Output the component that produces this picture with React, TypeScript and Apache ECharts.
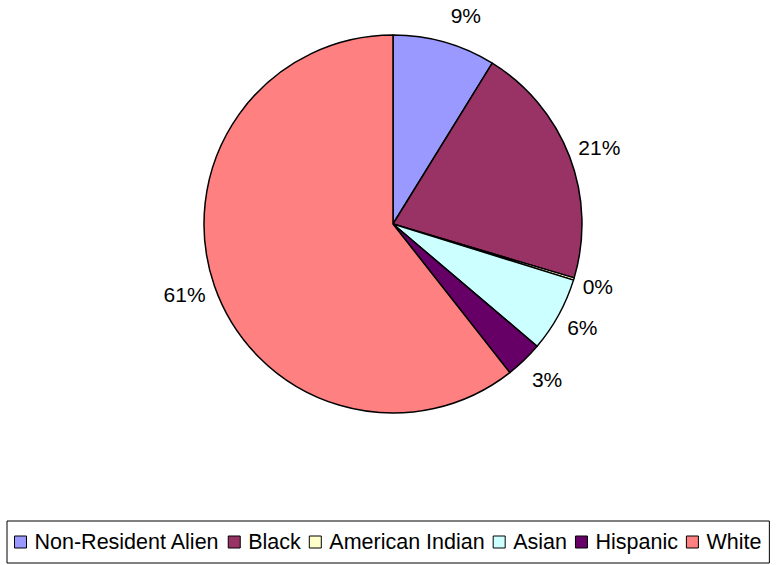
import React, { useEffect, useRef } from "react";
import * as echarts from "echarts";

const categories = ["Non-Resident Alien", "Black", "American Indian", "Asian", "Hispanic", "White"];
const values = [8.8, 20.8, 0.2, 6.4, 3.2, 60.6];
const colors = ["#9999FF", "#993366", "#FFFFCC", "#CCFFFF", "#660066", "#FF8080"];

const CX = 393;
const CY = 224;
const FONT = "'Liberation Sans', Arial, sans-serif";

export default function App() {
  const ref = useRef<HTMLDivElement>(null);
  useEffect(() => {
    if (!ref.current) return;
    const chart = echarts.init(ref.current, null, { renderer: "svg" });
    chart.setOption({
      animation: false,
      backgroundColor: "#ffffff",
      legend: {
        data: categories,
        left: 7,
        top: 521,
        orient: "horizontal",
        padding: [10, 8, 10, 7],
        itemGap: 8,
        itemWidth: 12,
        itemHeight: 12,
        icon: "rect",
        borderColor: "#000",
        borderWidth: 1,
        backgroundColor: "#fff",
        itemStyle: { borderColor: "#000", borderWidth: 1 },
        textStyle: { fontSize: 21.5, fontFamily: FONT, color: "#000", padding: [0, 0, 0, 3] },
      },
      series: [
        {
          type: "pie",
          center: [CX, CY],
          radius: 189,
          startAngle: 90,
          clockwise: true,
          avoidLabelOverlap: false,
          itemStyle: { borderColor: "#000", borderWidth: 1.5 },
          label: {
            show: true,
            position: "outside",
            fontSize: 21,
            fontFamily: FONT,
            color: "#000",
            formatter: (p: any) => Math.round(p.percent) + "%",
          },
          labelLine: { show: false, length: 4, length2: 0 },
          labelLayout: (params: any) => {
            const r = params.labelRect;
            const dx = r.x + r.width / 2 - CX;
            const dy = r.y + r.height / 2 - CY;
            const len = Math.sqrt(dx * dx + dy * dy) || 1;
            return { dy: (dy / len) * 24 };
          },
          emphasis: { disabled: true },
          data: categories.map((name, i) => ({
            name,
            value: values[i],
            itemStyle: { color: colors[i] },
          })),
        },
      ],
    });
    return () => chart.dispose();
  }, []);
  return (
    <div
      ref={ref}
      style={{ position: "absolute", left: 0, top: 0, width: 780, height: 565 }}
    />
  );
}
